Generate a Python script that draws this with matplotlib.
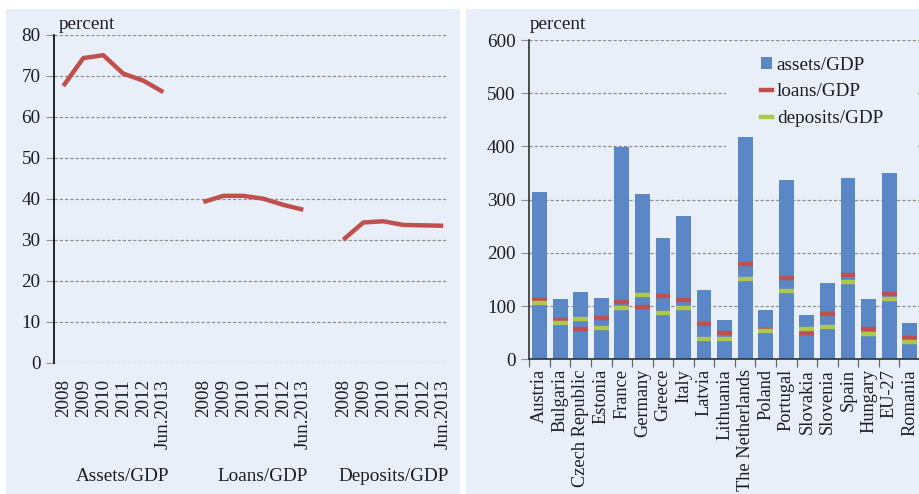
import matplotlib
matplotlib.use("Agg")
import matplotlib.pyplot as plt
import numpy as np
from matplotlib.patches import Rectangle, Patch
from matplotlib.lines import Line2D

plt.rcParams['font.family'] = ['Liberation Serif', 'DejaVu Serif']

# ---------------- data ----------------
periods = ["2008", "2009", "2010", "2011", "2012", "Jun.2013"]
group_names = ["Assets/GDP", "Loans/GDP", "Deposits/GDP"]
assets_gdp = [67.5, 74.3, 75.0, 70.5, 68.8, 66.0]
loans_gdp = [39.2, 40.7, 40.7, 40.0, 38.5, 37.3]
deposits_gdp = [30.0, 34.2, 34.5, 33.6, 33.5, 33.4]

countries = ["Austria", "Bulgaria", "Czech Republic", "Estonia", "France", "Germany",
             "Greece", "Italy", "Latvia", "Lithuania", "The Netherlands", "Poland",
             "Portugal", "Slovakia", "Slovenia", "Spain", "Hungary", "EU-27", "Romania"]
c_assets = [314, 114, 126, 116, 398, 310, 228, 269, 130, 74, 417, 93, 336, 83, 144, 341, 114, 351, 69]
c_loans = [112, 73, 56, 78, 107, 99, 119, 112, 66, 49, 180, 55, 153, 49, 85, 158, 56, 122, 40]
c_deposits = [105, 69, 75, 58, 96, 121, 87, 96, 38, 38, 151, 53, 129, 57, 60, 146, 48, 114, 33]

# ---------------- style ----------------
BG = "#E9EFF9"
RED = "#C0504D"
GREEN = "#ADC84A"
BLUE = "#5B87C6"
TXT = "#1c1c24"
GRID = "#8f8f8f"
FS = 13.8

fig = plt.figure(figsize=(9.2, 4.94), dpi=100)
W, H = 920, 494
# panel backgrounds
fig.patches.append(Rectangle((6 / W, 0), (460 - 6) / W, (494 - 9) / H,
                             transform=fig.transFigure, facecolor=BG, edgecolor='none', zorder=-10))
fig.patches.append(Rectangle((466 / W, 0), (920 - 466) / W, (494 - 9) / H,
                             transform=fig.transFigure, facecolor=BG, edgecolor='none', zorder=-10))

dash = (0, (2.6, 1.6))

# ---------------- left panel ----------------
axL = fig.add_axes([54.3 / W, 1 - 362.7 / H, (448.3 - 54.3) / W, (362.7 - 34.7) / H])
axL.set_facecolor('none')
series = [assets_gdp, loans_gdp, deposits_gdp]
n = len(periods)
xpos_all = []
xlabels_all = []
for g, vals in enumerate(series):
    xs = np.arange(n) + g * (n + 1)
    axL.plot(xs, vals, color=RED, lw=3.2, solid_capstyle='butt', zorder=3)
    xpos_all.extend(xs)
    xlabels_all.extend(periods)
    offset = 0.45 if g < 2 else 0.0
    axL.text(xs.mean() + offset, -0.348, group_names[g], transform=axL.get_xaxis_transform(),
             ha='center', va='center', fontsize=FS, color=TXT)
axL.set_xlim(-0.45, 19.25)
axL.set_ylim(0, 80)
axL.set_yticks(np.arange(0, 81, 10))
axL.set_xticks(xpos_all)
axL.set_xticklabels(xlabels_all, rotation=90, fontsize=FS, color=TXT, va='top')
axL.tick_params(axis='x', length=0, pad=12)
axL.tick_params(axis='y', length=6, width=0.8, color=GRID, pad=4, labelsize=FS, labelcolor=TXT)
for s in ['top', 'right', 'bottom']:
    axL.spines[s].set_visible(False)
axL.spines['left'].set_color('black')
axL.spines['left'].set_linewidth(1.2)
axL.yaxis.grid(True, color=GRID, ls=dash, lw=0.9)
axL.set_axisbelow(True)
axL.text(0.01, 1.005, "percent", transform=axL.transAxes, ha='left', va='bottom',
         fontsize=FS, color=TXT)

# ---------------- right panel ----------------
axR = fig.add_axes([529.3 / W, 1 - 359.3 / H, (920 - 529.3) / W, (359.3 - 40) / H])
axR.set_facecolor('none')
xc = np.arange(len(countries))
bw = 0.72
axR.bar(xc, c_assets, width=bw, color=BLUE, zorder=2, label="assets/GDP")
axR.hlines(c_loans, xc - bw / 2, xc + bw / 2, color=RED, lw=3.2, zorder=3)
axR.hlines(c_deposits, xc - bw / 2, xc + bw / 2, color=GREEN, lw=3.2, zorder=3)
axR.set_xlim(-0.5, 18.27)
axR.set_ylim(0, 600)
axR.set_yticks(np.arange(0, 601, 100))
axR.set_xticks(xc)
axR.set_xticklabels(countries, rotation=90, fontsize=13.2, color=TXT, va='top')
axR.set_xticks(np.arange(-0.5, len(countries), 1.0), minor=True)
axR.tick_params(axis='x', which='major', length=0, pad=7)
axR.tick_params(axis='x', which='minor', length=6, width=0.9, color='#666666')
axR.tick_params(axis='y', length=6, width=0.8, color=GRID, pad=4, labelsize=FS, labelcolor=TXT)
for s in ['top', 'right']:
    axR.spines[s].set_visible(False)
axR.spines['left'].set_color('#333333')
axR.spines['left'].set_linewidth(1.2)
axR.spines['bottom'].set_color('#333333')
axR.spines['bottom'].set_linewidth(1.2)
axR.yaxis.grid(True, color=GRID, ls=dash, lw=0.9)
axR.set_axisbelow(True)
axR.text(0.0, 1.022, "percent", transform=axR.transAxes, ha='left', va='bottom',
         fontsize=FS, color=TXT)

# mask behind the legend (legend area has the panel colour)
axR.add_patch(Rectangle((0.503, 0.66), 0.49, 0.26, transform=axR.transAxes,
                        facecolor=BG, edgecolor='none', zorder=1.5))
handles = [Patch(facecolor=BLUE, edgecolor='none'),
           Line2D([], [], color=RED, lw=3.2),
           Line2D([], [], color=GREEN, lw=3.2)]
leg = axR.legend(handles, ["assets/GDP", "loans/GDP", "deposits/GDP"],
                 loc='upper left', bbox_to_anchor=(0.582, 0.96), frameon=False,
                 fontsize=FS, handlelength=0.6, handleheight=0.65, handletextpad=0.25,
                 labelspacing=0.5, borderpad=0.2, borderaxespad=0)
for t in leg.get_texts():
    t.set_color(TXT)

fig.savefig("out.png", dpi=100)
